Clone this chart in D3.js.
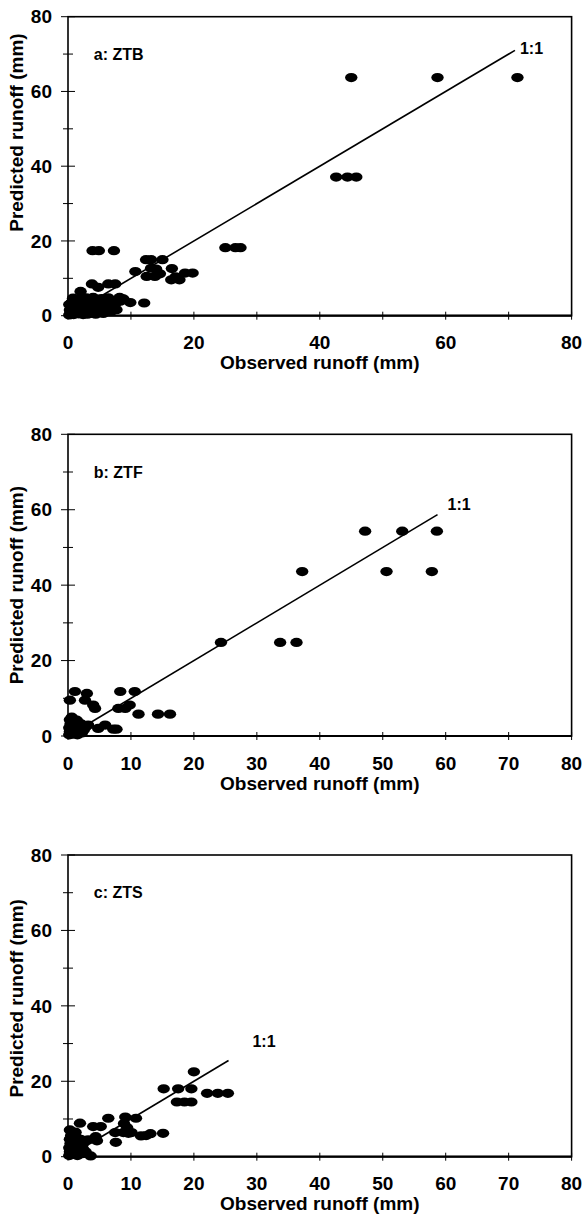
<!DOCTYPE html>
<html lang="en">
<head>
<meta charset="UTF-8">
<title>Observed vs predicted runoff</title>
<script src="https://d3js.org/d3.v7.min.js"></script>
<style>
  body { margin: 0; background: #fff; }
  text { font-family: "Liberation Sans", Arial, sans-serif; font-weight: bold; fill: #000; }
</style>
</head>
<body>
<script>
// ---- data (mm) ----
const panelNames = ["a: ZTB", "b: ZTF", "c: ZTS"];

const ztbObs = [0.2,0.4,0.3,0.5,0.2,0.6,0.9,1.0,1.2,1.1,1.4,1.7,1.8,2.0,2.2,2.5,2.6,2.8,3.0,3.2,3.3,3.5,3.7,3.9,4.1,4.3,4.5,4.7,4.9,5.1,5.3,5.5,5.8,6.0,6.2,6.5,6.8,7.0,7.3,7.6,7.9,8.3,8.8,6.4,4.0,1.5,0.8,
  2.4,3.1,5.6,6.9,7.7,4.4,2.9,1.9,
  2.0,3.8,4.8,6.4,7.5,8.2,9.9,12.1,
  3.9,4.9,7.3,25.0,26.6,27.4,42.6,44.4,45.8,45.0,58.7,71.4,
  10.7,12.4,13.2,15.0,12.5,13.2,14.0,13.8,14.6,16.5,16.4,17.1,17.7,18.6,19.8];
const ztbPred = [0.2,0.8,1.5,2.2,3.0,3.6,0.3,1.1,2.0,2.8,3.5,0.5,1.4,2.3,3.1,4.0,0.8,1.7,2.6,3.4,4.3,0.6,1.5,2.4,3.3,4.1,1.0,2.0,2.9,3.8,4.6,1.4,2.3,3.2,4.1,1.9,2.8,3.7,2.5,3.4,4.3,3.9,4.5,4.8,4.9,4.4,4.7,
  0.3,0.4,0.6,1.2,1.6,0.4,4.8,4.6,
  6.5,8.5,7.6,8.5,8.5,4.9,3.5,3.4,
  17.4,17.4,17.4,18.2,18.2,18.2,37.1,37.1,37.1,63.7,63.7,63.7,
  11.8,15.0,15.0,15.0,10.5,12.7,12.5,10.5,11.2,12.6,9.6,10.4,9.6,11.4,11.4];

const ztfObs = [0.2,0.3,0.2,0.4,0.3,0.6,0.8,1.0,0.9,1.2,1.5,1.6,1.8,2.2,2.5,2.8,1.4,2.0,
  0.3,1.1,3.0,2.7,4.0,4.3,8.3,10.6,8.0,9.1,9.8,11.2,14.3,16.2,5.9,4.8,7.2,7.7,3.2,
  24.3,33.7,36.3,37.2,50.6,57.8,47.2,53.1,58.6];
const ztfPred = [0.3,1.2,2.2,3.2,4.3,5.0,0.5,1.6,2.7,3.8,0.3,1.2,2.3,0.8,1.6,2.4,4.2,3.3,
  9.5,11.8,11.3,9.5,8.2,7.3,11.8,11.8,7.3,7.3,8.2,5.8,5.8,5.8,2.9,2.0,1.8,1.8,2.9,
  24.8,24.8,24.8,43.6,43.6,43.6,54.3,54.3,54.3];

const ztsObs = [0.2,0.3,0.2,0.4,0.3,0.5,0.9,1.0,1.1,0.9,1.5,1.6,1.7,1.6,2.2,2.4,2.3,2.8,1.3,2.0,
  20.0,15.2,17.5,19.6,17.3,18.5,19.6,22.1,23.8,25.4,
  6.4,9.1,10.8,8.9,9.4,8.8,9.6,10.1,7.5,11.6,12.4,13.1,15.1,7.6,4.0,5.2,1.9,4.6,4.4,3.6,0.3,1.2,3.2];
const ztsPred = [0.3,1.3,2.4,3.5,4.6,5.6,0.6,1.8,2.9,4.0,0.3,1.4,2.5,3.7,0.8,2.0,3.2,1.3,5.2,4.6,
  22.5,18.0,18.0,18.0,14.5,14.5,14.5,16.8,16.8,16.8,
  10.2,10.5,10.2,8.8,7.7,6.4,6.2,6.4,6.4,5.5,5.6,6.1,6.2,3.8,8.0,8.0,8.9,4.2,5.3,0.2,7.1,6.5,4.5];

const lineEnds = [71, 58.7, 25.5];          // extent of each 1:1 line
const xLabelStep = [20, 10, 10];            // labelled x ticks per panel
const tickValues = [0, 10, 20, 30, 40, 50, 60, 70, 80];
const yTickLabels = [0, 20, 40, 60, 80];

const width = 582, height = 1218;
const svg = d3.select("body").append("svg")
  .attr("width", width)
  .attr("height", height);

// panel frames (pixels)
const frames = [
  { top: 16.7, bottom: 315.7, titleMid: 49, label11: [71.8, 71.5] },
  { top: 434.3, bottom: 736, titleMid: 40, label11: [60.3, 61.3] },
  { top: 855, bottom: 1156.7, titleMid: 42, label11: [29.3, 30.6] }
];
const left = 68, right = 571.6;

const series = [
  [ztbObs, ztbPred],
  [ztfObs, ztfPred],
  [ztsObs, ztsPred]
];

frames.forEach(function(f, i) {
  const x = d3.scaleLinear().domain([0, 80]).range([left, right]);
  const y = d3.scaleLinear().domain([0, 80]).range([f.bottom, f.top]);
  const g = svg.append("g");

  // frame
  g.append("rect")
    .attr("x", left).attr("y", f.top)
    .attr("width", right - left).attr("height", f.bottom - f.top)
    .attr("fill", "none").attr("stroke", "#000").attr("stroke-width", 1.6);
  g.append("line")
    .attr("x1", left).attr("x2", right).attr("y1", f.bottom).attr("y2", f.bottom)
    .attr("stroke", "#000").attr("stroke-width", 2.2);

  // x ticks (crossing the axis)
  g.selectAll(".xt").data(tickValues).enter().append("line")
    .attr("x1", d => x(d)).attr("x2", d => x(d))
    .attr("y1", f.bottom - 4).attr("y2", f.bottom + 4)
    .attr("stroke", "#000").attr("stroke-width", 1);
  g.selectAll(".xl").data(tickValues.filter(d => d % xLabelStep[i] === 0)).enter().append("text")
    .attr("x", d => x(d)).attr("y", f.bottom + 27)
    .attr("text-anchor", "middle").attr("dy", "0.35em")
    .style("font-size", "19px")
    .text(d => d);

  // y ticks
  g.selectAll(".yt").data(tickValues).enter().append("line")
    .attr("x1", d => left - (d % 20 === 0 ? 7 : 5)).attr("x2", d => left + (d % 20 === 0 ? 7 : 5))
    .attr("y1", d => y(d)).attr("y2", d => y(d))
    .attr("stroke", "#000").attr("stroke-width", 1);
  g.selectAll(".yl").data(yTickLabels).enter().append("text")
    .attr("x", 52).attr("y", d => y(d))
    .attr("text-anchor", "end").attr("dy", "0.35em")
    .style("font-size", "19px")
    .text(d => d);

  // axis titles
  g.append("text")
    .attr("x", (left + right) / 2).attr("y", f.bottom + 47)
    .attr("text-anchor", "middle").attr("dy", "0.35em")
    .style("font-size", "19px")
    .text("Observed runoff (mm)");
  g.append("text")
    .attr("transform", "translate(16," + y(f.titleMid) + ") rotate(-90)")
    .attr("text-anchor", "middle").attr("dy", "0.35em")
    .style("font-size", "19px")
    .text("Predicted runoff (mm)");

  // 1:1 line
  g.append("line")
    .attr("x1", x(0)).attr("y1", y(0))
    .attr("x2", x(lineEnds[i])).attr("y2", y(lineEnds[i]))
    .attr("stroke", "#000").attr("stroke-width", 1.6);

  // points
  const obs = series[i][0], pred = series[i][1];
  g.selectAll(".pt").data(obs).enter().append("ellipse")
    .attr("cx", (d, j) => x(d))
    .attr("cy", (d, j) => y(pred[j]))
    .attr("rx", 6.2).attr("ry", 4.6)
    .attr("fill", "#000");

  // labels
  g.append("text")
    .attr("x", x(4.1)).attr("y", y(70)).attr("dy", "0.35em")
    .style("font-size", "16px")
    .text(panelNames[i]);
  g.append("text")
    .attr("x", x(f.label11[0])).attr("y", y(f.label11[1])).attr("dy", "0.35em")
    .style("font-size", "16px")
    .text("1:1");
});
</script>
</body>
</html>
